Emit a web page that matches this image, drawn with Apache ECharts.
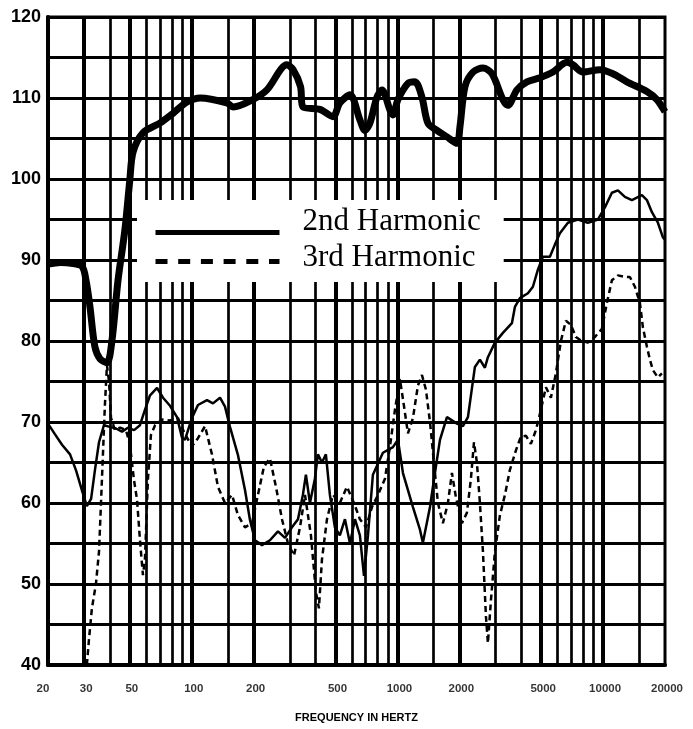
<!DOCTYPE html>
<html><head><meta charset="utf-8">
<script src="https://cdn.jsdelivr.net/npm/echarts@6/dist/echarts.min.js"></script>
<style>html,body{margin:0;padding:0;background:#fff}#c{width:693px;height:729px}</style>
</head><body><div id="c"></div>
<script>
// [frequency Hz, level dB]
const fundamental = [
[20,89.5],[23,89.7],[26,89.6],[29.3,89.2],[30.6,87.5],[32,84.2],[33.8,79.3],[35.8,77.8],[38.7,77.3],[40.9,80],[43.8,87.5],[47.3,93.7],[50,99.9],[51.8,103.3],[57.9,105.7],[70,106.9],[81,108.1],[94.8,109.5],[110,110],[148,109.4],[159,108.9],[198,109.8],[232,111],[290,114.1],[311,113.5],[338,111.4],[347,108.9],[420,108.6],[486,107.7],[525,109.4],[588,110.4],[657,107.3],[695,106],[735,106.9],[795,110.1],[841,111],[920,108.5],[951,107.9],[1006,109.8],[1125,111.8],[1217,112],[1316,110.1],[1407,106.9],[1557,106],[1741,105.2],[1947,104.4],[2013,106.4],[2130,111.4],[2330,113.2],[2605,113.7],[2882,113],[3258,109.8],[3446,109.1],[3811,111],[4263,112],[4930,112.5],[5702,113.2],[6671,114.4],[7134,114.1],[7978,113.2],[9652,113.5],[11162,113],[13058,112],[16332,110.8],[18262,109.8],[20000,108.3]
];
const harmonic2 = [
[20,69.8],[21.6,68.5],[23.4,67.2],[25.6,66],[27.4,64],[29.3,61.5],[30.9,59.6],[32.4,60.5],[33.8,64],[35.4,67.5],[37.4,69.6],[40,69.4],[42.8,69.2],[45.8,68.8],[48.9,69.3],[52.4,69],[56,69.6],[59.2,71.5],[62.7,73.3],[67.8,74.2],[72.5,73],[78.4,72],[84.8,70.6],[89.6,68.1],[92.7,67.8],[100.2,70.5],[107.2,72.1],[118.6,72.7],[126.8,72.3],[137.2,73],[145.1,71.9],[153.4,69.4],[167.8,65.9],[181.5,61.6],[191.9,57.9],[203,55.4],[219.5,54.8],[240,55.4],[262.5,56.5],[284,55.7],[307,57],[328.5,58],[347,61],[359,63.5],[375.5,60],[397,63],[410.7,66],[429.5,65],[449,66],[469.6,61],[496.6,57],[525,56],[555.7,58],[588,55],[621.6,58],[657,56],[687.7,51],[719,56],[760,63.5],[850,66.2],[951,66.9],[1006,67.8],[1064,63.7],[1190,59.5],[1287,56.7],[1330,55.1],[1440,59.5],[1522,63.7],[1610,67.8],[1741,70.6],[1947,69.8],[2082,69.5],[2202,70.6],[2381,76.8],[2518,77.7],[2663,76.7],[2754,78],[2979,79.8],[3258,81],[3603,82.2],[3726,84.2],[3941,85.3],[4311,85.9],[4558,86.7],[4820,88.8],[5097,90.4],[5513,90.4],[5830,91.9],[6166,93.3],[6744,94.6],[7544,95],[8437,94.6],[9435,95],[10205,96.5],[11036,98.3],[11804,98.6],[12766,97.8],[13807,97.4],[15443,98],[16332,97.4],[17274,95.9],[18473,94.6],[19537,92.8],[20000,92.5]
];
const harmonic3 = [
[30.9,40],[31.6,43],[32.7,47],[34.2,50],[35.4,54],[36.2,60],[37,66],[37.8,72],[38.7,77],[39.6,75],[40.5,70.5],[42.3,69],[44.8,69.3],[47.9,69],[50,67.2],[52.4,62.8],[54.2,60.4],[56,55.4],[57.9,51.1],[59.2,53],[61.2,62.8],[63.3,68.4],[66.3,69.6],[71.7,70.3],[78.4,70.2],[85.7,70.5],[92.7,68.5],[100.2,67],[107.2,68],[116,69.5],[125.4,66],[134.1,62],[145.1,60],[156.9,61],[167.8,58.5],[181.5,57],[196.2,57.5],[209.8,61],[224.4,64.5],[240,65.5],[256.7,62],[274.6,58],[293.7,55],[314,53.5],[336,57],[355.2,61],[379.8,56],[401.6,49],[415.3,47],[429.5,53],[454.4,58],[486,61],[525,60],[568,62],[614.6,60],[657,58],[703.3,57],[752,59.5],[804.3,61],[869.8,63],[920,67],[972.6,71.5],[1028.6,75.3],[1075.7,72],[1125,68.6],[1190,70.5],[1258,74.5],[1316,75.8],[1376,74],[1440,70],[1505,65],[1574,60],[1664,57.5],[1760,60],[1841,63.7],[1925,60.7],[2059,57.5],[2177,58.8],[2277,63],[2356,67.5],[2435,65],[2518,60],[2605,54],[2694,46],[2754,42.7],[2849,48],[2979,54],[3151,58.5],[3332,61],[3524,64.1],[3769,66.5],[3986,68.2],[4214,68.3],[4457,67.3],[4713,69],[4930,71],[5272,74.3],[5575,73],[5896,76],[6235,80],[6594,82.5],[6973,82],[7373,80.5],[7887,80],[8437,79.8],[9123,80.5],[9867,81.5],[10434,84.7],[11036,87.5],[11804,88.1],[12766,87.9],[13500,87.9],[14278,86.7],[15099,84.7],[15615,81.7],[16332,79.3],[16893,77.7],[17472,76.4],[18473,75.5],[19320,76]
];
const tickLabels = [20,30,50,100,200,500,1000,2000,5000,10000,20000];
const gridFreqs = [30,40,50,60,70,80,90,100,150,200,300,400,500,600,700,800,900,1000,1500,2000,3000,4000,5000,6000,7000,8000,9000,10000,15000];
const legendNames = ['2nd Harmonic','3rd Harmonic'];

const chart = echarts.init(document.getElementById('c'), null, {renderer:'canvas'});
const heavy = new Set(tickLabels);
const noSymbol = {color:'rgba(0,0,0,0)',borderColor:'rgba(0,0,0,0)',borderWidth:0};
const serif = {fontFamily:'Liberation Serif',fontSize:31,color:'#000',lineHeight:30};
const option = {
  animation:false,
  backgroundColor:'#fff',
  grid:{left:48,right:28,top:17,bottom:64,show:true,borderColor:'#000',borderWidth:3,backgroundColor:'transparent'},
  xAxis:{type:'log',logBase:10,min:20,max:20000,
    axisLine:{show:true,lineStyle:{color:'#000',width:4}},axisTick:{show:false},axisLabel:{show:false},splitLine:{show:false},
    name:'FREQUENCY IN HERTZ',nameLocation:'middle',nameGap:47,
    nameTextStyle:{fontFamily:'Liberation Sans',fontWeight:'bold',fontSize:11,color:'#000'}},
  yAxis:{type:'value',min:40,max:120,interval:5,
    axisLine:{show:true,lineStyle:{color:'#000',width:4}},axisTick:{show:false},
    axisLabel:{formatter:v=>v%10===0?String(v):'',color:'#000',fontWeight:'bold',fontSize:18,fontFamily:'Liberation Sans',margin:7},
    splitLine:{show:true,lineStyle:{color:'#000',width:3.2}}},
  legend:{orient:'vertical',left:137,top:200,padding:[6,23,1,16],itemGap:-17,itemWidth:124,itemHeight:14,
    backgroundColor:'#fff',selectedMode:false,z:10,
    formatter:n=>(n===legendNames[0]?'{a|':'{b|')+n+'}',
    textStyle:{padding:[0,0,0,18],rich:{
      a:Object.assign({padding:[0,0,22,0]},serif),
      b:Object.assign({padding:[0,0,8,0]},serif)}},
    data:[{name:legendNames[0],lineStyle:{width:5},itemStyle:noSymbol},
          {name:legendNames[1],lineStyle:{width:5,type:[12,10.7]},itemStyle:noSymbol}]},
  series:[
    {name:'grid',type:'line',data:[[20,40]],symbol:'none',lineStyle:{width:0},silent:true,z:1,
      markLine:{symbol:['none','none'],silent:true,z:1,label:{show:false},animation:false,
        data:gridFreqs.map(f=>({xAxis:f,lineStyle:{color:'#000',width:heavy.has(f)?4:2.7,type:'solid'}}))}},
    {name:'Fundamental',type:'line',data:fundamental,symbol:'none',smooth:0.3,z:3,
      lineStyle:{color:'#000',width:7},itemStyle:{color:'#000'}},
    {name:legendNames[0],type:'line',data:harmonic2,symbol:'none',z:3,
      lineStyle:{color:'#000',width:2.5},itemStyle:{color:'#000'}},
    {name:legendNames[1],type:'line',data:harmonic3,symbol:'none',z:3,
      lineStyle:{color:'#000',width:2.5,type:[6,4]},itemStyle:{color:'#000'}},
    {name:'ticks',type:'scatter',silent:true,clip:false,z:5,symbolSize:1,itemStyle:{color:'rgba(0,0,0,0)'},
      data:tickLabels.map((f,i)=>({value:[f,40],label:i===0?{offset:[-5,0]}:{}})),
      label:{show:true,position:'bottom',distance:17,offset:[2,0],formatter:p=>String(p.value[0]),
        color:'#000',fontWeight:'bold',fontSize:11.5,fontFamily:'Liberation Sans'}}
  ]
};
chart.setOption(option);
</script></body></html>
